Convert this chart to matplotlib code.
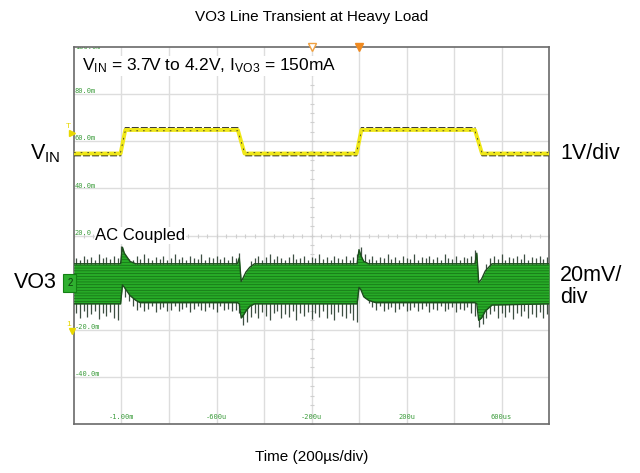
import numpy as np
import matplotlib.pyplot as plt

plt.rcParams['font.family'] = ['Liberation Sans', 'DejaVu Sans']
plt.rcParams['mathtext.fontset'] = 'custom'
plt.rcParams['mathtext.rm'] = 'Liberation Sans'
plt.rcParams['mathtext.it'] = 'Liberation Sans:italic'
plt.rcParams['hatch.linewidth'] = 0.45

# screen: 200 us/div across, VO3 channel at 20 mV/div
t_lim = (-1200, 800)
mv_lim = (-60, 100)

# channel 1, VIN step in volts (1 V/div, ground marker at -19.2 on the grid)
vin_t = [-1200, -1004, -984, -510, -482, -10, 10, 488, 518, 800]
vin_v = [3.7, 3.7, 4.2, 4.2, 3.7, 3.7, 4.2, 4.2, 3.7, 3.7]
ch1_gnd = -19.2
ch1_scale = 20.0  # grid units per volt
trig_level = 4.2

# channel 2, VO3 AC coupled: solid part of the noise band (mV)
band_t = [-1200, -1004, -996, -988, -964, -940, -922, -512, -504, -496, -488,
          -476, -460, -440, -8, 0, 8, 20, 40, 70, 488, 496, 504, 516, 532, 560, 800]
band_hi = [8, 8, 15, 12.5, 9, 8, 8, 8, 10.5, 0.5, 2, 4.5, 6.5, 8, 8, 14, 11.5,
           9, 8, 8, 8, 12.5, 0, 1.5, 5, 8, 8]
band_lo = [-9, -9, -1, -2, -5.5, -7.5, -8.5, -8.5, -9, -15, -14, -12, -10, -9,
           -9, -2, -3, -6, -7.5, -8.5, -8.5, -9, -16, -15, -12, -9.5, -9]

# VO3 noise spikes, one every 16 us starting at -1192 us (mV)
spike_top = [10.5, 9.5, 11.5, 10, 11, 9.5, 12, 10.5, 11, 10, 11.5, 10.5,
             15.5,
             11, 10, 9.5, 11.5, 10, 12, 10.5, 9.5, 11, 10, 11.5, 9.5, 10.5, 12, 10,
             11, 9.5, 11.5, 10.5, 10, 12, 9.5, 11, 10.5, 11.5, 10, 11, 9.5, 11.5, 10.5,
             12.5, 2, 5, 9,
             10.5, 11.5, 9.5, 11, 12, 10, 11.5, 10.5, 9.5, 11, 12, 10, 10.5, 11.5,
             9.5, 11, 10.5, 12, 10, 11, 9.5, 11.5, 10.5, 10, 11.5, 9.5, 11,
             12, 15, 12,
             10, 11.5, 9.5, 11, 10.5, 12, 10, 11, 9.5, 11.5, 10.5, 10, 12, 9.5,
             11, 10.5, 11.5, 10, 11, 9.5, 12, 10.5, 10, 11.5, 9.5, 11, 10.5, 11.5,
             14, 0, 3, 8,
             10.5, 11.5, 10, 12, 9.5, 11, 10.5, 11.5, 10, 12, 9.5, 11, 10.5, 11.5, 10, 11]
spike_bot = [-13, -15, -12, -14.5, -13.5, -12, -15.5, -13, -14, -12.5, -15, -16,
             -3,
             -6, -8, -10, -11.5, -10.5, -12, -11, -10, -12.5, -11, -10.5, -12, -11.5,
             -10, -12, -11, -10.5, -12.5, -11, -10, -11.5, -12, -10.5, -11, -12.5, -10,
             -11.5, -11, -12, -11.5,
             -13, -18, -16.5, -14.5,
             -13, -15, -12.5, -14, -16, -13, -12, -15, -13.5, -14.5, -12, -16, -13,
             -14, -12.5, -15.5, -13, -14.5, -12, -15, -13.5, -16, -12.5, -14, -15,
             -13, -16,
             -16.5, -3, -6.5,
             -8.5, -10.5, -11.5, -10, -12, -11, -10.5, -12.5, -11, -10, -12, -11.5,
             -10.5, -12, -11, -10, -12.5, -11, -11.5, -10, -12, -11, -10.5, -12.5,
             -11, -11.5, -10.5, -13,
             -14, -19, -17.5, -15,
             -13.5, -12, -15, -13, -14.5, -12.5, -15.5, -13, -14, -12, -15, -13.5,
             -14.5, -12.5, -15, -13.5]
spike_t = -1192 + 16 * np.arange(len(spike_top))

# scope graticule labels
y_lab_vals = [100, 80, 60, 40, 20, -20, -40]
y_lab_text = ['100.0m', '80.0m', '60.0m', '40.0m', '20.0', '-20.0m', '-40.0m']
x_lab_vals = [-1000, -600, -200, 200, 600]
x_lab_text = ['-1.00m', '-600u', '-200u', '200u', '600us']

fig = plt.figure(figsize=(6.4, 4.73), dpi=100)
ax = fig.add_axes([74 / 640, 49 / 473, 475 / 640, 377 / 473])
ax.set_xlim(*t_lim)
ax.set_ylim(*mv_lim)

# graticule
for x in np.arange(t_lim[0] + 200, t_lim[1], 200):
    ax.axvline(x, color='#dddddd', lw=1, zorder=0)
for y in np.arange(mv_lim[0] + 20, mv_lim[1], 20):
    ax.axhline(y, color='#dddddd', lw=1, zorder=0)
ax.plot(np.full(41, -200), np.arange(-60, 101, 4), ls='none', marker='_',
        ms=3, mew=0.8, color='#cfcfcf', zorder=0.5)
ax.plot(np.arange(-1200, 801, 40), np.full(51, 20), ls='none', marker='|',
        ms=3, mew=0.8, color='#cfcfcf', zorder=0.5)

lab_kw = dict(family='DejaVu Sans Mono', fontsize=5, color='#3c9c3c', zorder=1)
for v, s in zip(y_lab_vals, y_lab_text):
    ax.text(-1196, min(v + 1.2, mv_lim[1]), s, ha='left', va='center',
            clip_on=True, **lab_kw)
for v, s in zip(x_lab_vals, x_lab_text):
    ax.text(v, -58.5, s, ha='center', va='bottom', **lab_kw)

# VO3 noise band
ax.vlines(spike_t, 0, spike_top, colors='#3d4f42', lw=0.9, zorder=2)
ax.vlines(spike_t, 0, spike_bot, colors='#3d4f42', lw=0.9, zorder=2)
ax.fill_between(band_t, band_lo, band_hi, color='#27aa27', lw=0, zorder=3)
ax.fill_between(band_t, band_lo, band_hi, facecolor='none', edgecolor='#136a13',
                hatch='------', lw=0, zorder=3.1)
ax.plot(band_t, band_hi, color='#1d4d1d', lw=1.0, zorder=3.2)
ax.plot(band_t, band_lo, color='#1d4d1d', lw=1.0, zorder=3.2)

# VIN trace
vin_y = ch1_gnd + ch1_scale * np.array(vin_v)
mid = ch1_gnd + ch1_scale * np.mean([min(vin_v), max(vin_v)])
edge = np.sign(vin_y - mid) * 0.9
ax.plot(vin_t, vin_y + edge, color='#222222', lw=1.0, ls=(0, (5, 1.5)), zorder=4)
ax.plot(vin_t, vin_y, color='#f0e818', lw=2.8, zorder=4.1)
ax.plot(vin_t, vin_y - 0.4 * edge, color='#333333', lw=0.6, ls=(0, (2, 6)), zorder=4.2)

# channel / trigger markers
yax = ax.get_yaxis_transform()
ax.text(-0.003, 0, '2', transform=yax, ha='right', va='center', fontsize=7,
        color='#0c3c0c', bbox=dict(boxstyle='square,pad=0.4', fc='#2fb02f',
                                   ec='#148014', lw=0.8), clip_on=False, zorder=6)
ax.text(-0.006, ch1_gnd + 1.5, '1', transform=yax, ha='right', va='center',
        fontsize=6, color='#e8d800', clip_on=False, zorder=6)
ax.plot([-0.004], [ch1_gnd - 1.5], marker='v', ms=4, color='#e8d800',
        transform=yax, clip_on=False, zorder=6)
ax.text(-0.006, ch1_gnd + ch1_scale * trig_level + 1.5, 'T', transform=yax,
        ha='right', va='center', fontsize=6, color='#e8d800', clip_on=False, zorder=6)
ax.plot([-0.004], [ch1_gnd + ch1_scale * trig_level - 1.2], marker='>', ms=4,
        color='#e8d800', transform=yax, clip_on=False, zorder=6)
xax = ax.get_xaxis_transform()
ax.plot([-200], [1.0], marker='v', ms=6, mfc='white', mec='#f0a040', mew=1,
        transform=xax, clip_on=False, zorder=6)
ax.plot([0], [1.0], marker='v', ms=6, color='#f08a20', transform=xax,
        clip_on=False, zorder=6)

# annotations
ax.text(-1168, 92, r'V$_{\mathrm{IN}}$ = 3.7V to 4.2V, I$_{\mathrm{VO3}}$ = 150mA',
        fontsize=12.5, ha='left', va='center', zorder=7,
        bbox=dict(fc='white', ec='none', pad=0.5))
ax.text(-1110, 20, 'AC Coupled', fontsize=12, ha='left', va='center', zorder=7,
        bbox=dict(fc='white', ec='none', pad=0.5))

vin_low = ch1_gnd + ch1_scale * min(vin_v)
ax.text(-0.029, vin_low, r'V$_{\mathrm{IN}}$', transform=yax, fontsize=15.5,
        ha='right', va='center', clip_on=False)
ax.text(-0.036, 0, 'VO3', transform=yax, fontsize=15.5, ha='right', va='center',
        clip_on=False)
ax.text(1.023, vin_low, '1V/div', transform=yax, fontsize=15.5, ha='left',
        va='center', clip_on=False)
ax.text(1.023, -1.5, '20mV/\ndiv', transform=yax, fontsize=15.5, ha='left',
        va='center', linespacing=1.05, clip_on=False)

ax.set_title('VO3 Line Transient at Heavy Load', fontsize=11, pad=19)
ax.set_xlabel('Time (200µs/div)', fontsize=11, labelpad=19)
ax.set_xticks([])
ax.set_yticks([])
for s in ax.spines.values():
    s.set_color('#6a6a6a')
    s.set_linewidth(1.2)

fig.savefig('out.png', dpi=100)
